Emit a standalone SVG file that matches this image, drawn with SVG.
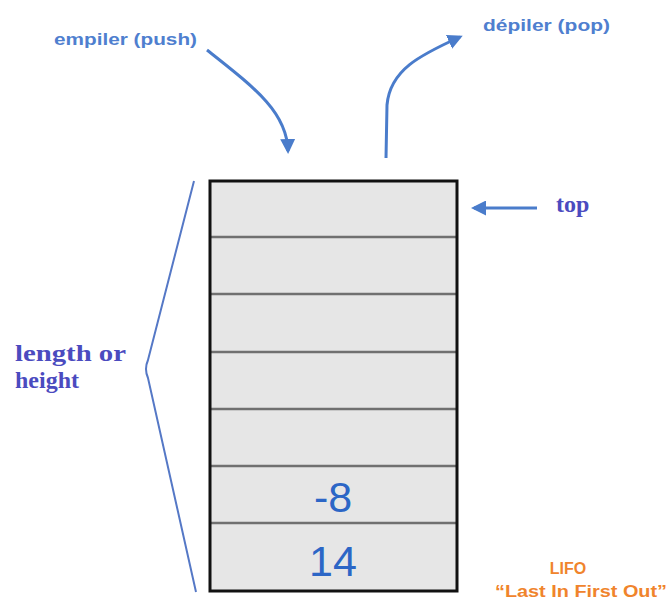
<svg xmlns="http://www.w3.org/2000/svg" width="672" height="601" viewBox="0 0 672 601">
<defs>
<style>
.cell{fill:#e6e6e6;stroke:none}
.div{stroke:#707070;stroke-width:2.5}
.lbl{font-family:"Liberation Sans",Arial,sans-serif;font-weight:bold;fill:#4f7fcf;font-size:17px}
.serif{font-family:"Liberation Serif","Times New Roman",serif;font-weight:bold;fill:#4b4bbf;font-size:24px}
.num{font-family:"Liberation Sans",Arial,sans-serif;fill:#2c66c6;font-size:43px;text-anchor:middle}
.orange{font-family:"Liberation Sans",Arial,sans-serif;font-weight:bold;fill:#f0842c;font-size:16px;text-anchor:middle}
.arr{fill:none;stroke:#4a7ccb;stroke-width:3}
</style>
<marker id="ah" viewBox="0 0 10 10" refX="8" refY="5" markerWidth="5" markerHeight="5" orient="auto" markerUnits="strokeWidth">
<path d="M0,0 L10,5 L0,10 Z" fill="#4a7ccb"/>
</marker>
</defs>
<rect width="672" height="601" fill="#ffffff"/>
<g id="stack">
<rect class="cell" x="210" y="181" width="247" height="410"/>
<line class="div" x1="210" y1="237" x2="457" y2="237"/>
<line class="div" x1="210" y1="294" x2="457" y2="294"/>
<line class="div" x1="210" y1="352" x2="457" y2="352"/>
<line class="div" x1="210" y1="409" x2="457" y2="409"/>
<line class="div" x1="210" y1="466" x2="457" y2="466"/>
<line class="div" x1="210" y1="523" x2="457" y2="523"/>
<rect x="210" y="181" width="247" height="410" fill="none" stroke="#111" stroke-width="3"/>
<text class="num" x="333" y="512">-8</text>
<text class="num" x="333" y="576">14</text>
</g>
<g id="connectors">
<path class="arr" d="M207,50 C255,88 287,112 288,151" marker-end="url(#ah)"/>
<path class="arr" d="M386,158 L387,105 C390,70 420,55 460,37" marker-end="url(#ah)"/>
<line class="arr" x1="537" y1="208" x2="474" y2="208" marker-end="url(#ah)"/>
<path d="M194,181 L148,360 Q144,369 148,378 L196,592" fill="none" stroke="#5578c6" stroke-width="2"/>
</g>
<g id="labels">
<text class="lbl" x="54" y="45" textLength="143" lengthAdjust="spacingAndGlyphs">empiler (push)</text>
<text class="lbl" x="483" y="31" textLength="127" lengthAdjust="spacingAndGlyphs">dépiler (pop)</text>
<text class="serif" x="556" y="212">top</text>
<text class="serif" x="15" y="361" textLength="111" lengthAdjust="spacingAndGlyphs">length or</text>
<text class="serif" x="15" y="388">height</text>
<text class="orange" x="568" y="574">LIFO</text>
<text class="orange" x="581" y="597" textLength="172" lengthAdjust="spacingAndGlyphs">“Last In First Out”</text>
</g>
</svg>
